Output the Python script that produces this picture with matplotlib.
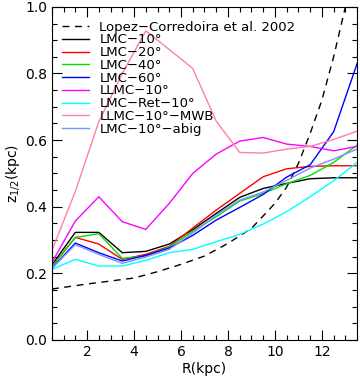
import matplotlib
matplotlib.use('Agg')
import matplotlib.pyplot as plt
from matplotlib.ticker import MultipleLocator

# radial bins (kpc)
r = [0.5, 1.5, 2.5, 3.5, 4.5, 5.5, 6.5, 7.5, 8.5, 9.5, 10.5, 11.5, 12.5, 13.5]

lmc10 = [0.225, 0.323, 0.323, 0.262, 0.266, 0.288, 0.331, 0.38, 0.428, 0.455, 0.47, 0.484, 0.487, 0.487]
lmc20 = [0.22, 0.308, 0.288, 0.242, 0.257, 0.281, 0.336, 0.39, 0.44, 0.49, 0.514, 0.521, 0.523, 0.523]
lmc40 = [0.22, 0.308, 0.319, 0.245, 0.252, 0.279, 0.326, 0.37, 0.417, 0.44, 0.469, 0.494, 0.533, 0.585]
lmc60 = [0.215, 0.291, 0.262, 0.237, 0.254, 0.276, 0.314, 0.36, 0.398, 0.437, 0.489, 0.526, 0.625, 0.83]
llmc10 = [0.232, 0.357, 0.43, 0.355, 0.332, 0.41, 0.5, 0.558, 0.597, 0.608, 0.588, 0.581, 0.568, 0.581]
lmc_ret = [0.212, 0.242, 0.222, 0.222, 0.239, 0.262, 0.272, 0.295, 0.317, 0.348, 0.385, 0.43, 0.478, 0.533]
llmc_mwb = [0.268, 0.446, 0.655, 0.80, 0.928, 0.872, 0.815, 0.657, 0.563, 0.561, 0.573, 0.581, 0.602, 0.627]
lmc_abig = [0.215, 0.286, 0.257, 0.23, 0.249, 0.272, 0.321, 0.375, 0.42, 0.444, 0.479, 0.516, 0.543, 0.573]

# Lopez-Corredoira et al. 2002 curve
r_lc = [0.5, 1, 2, 3, 4, 5, 6, 7, 8, 9, 10, 10.5, 11, 11.5, 12, 12.5, 13, 13.2]
z_lc = [0.153, 0.158, 0.168, 0.177, 0.186, 0.205, 0.227, 0.252, 0.29, 0.335, 0.41, 0.459, 0.53, 0.62, 0.72, 0.85, 1.0, 1.07]

fig = plt.figure(figsize=(3.6, 3.82), dpi=100)
ax = fig.add_axes([0.144, 0.11, 0.848, 0.872])

ax.plot(r_lc, z_lc, color='black', ls=(0, (5, 4)), lw=1.0, label='Lopez\u2212Corredoira et al. 2002')
ax.plot(r, lmc10, color='black', lw=1.0, label='LMC\u221210\u00b0')
ax.plot(r, lmc20, color='#ff0000', lw=1.0, label='LMC\u221220\u00b0')
ax.plot(r, lmc40, color='#00e000', lw=1.0, label='LMC\u221240\u00b0')
ax.plot(r, lmc60, color='#0000ff', lw=1.0, label='LMC\u221260\u00b0')
ax.plot(r, llmc10, color='#ff00ff', lw=1.0, label='LLMC\u221210\u00b0')
ax.plot(r, lmc_ret, color='#00ffff', lw=1.0, label='LMC\u2212Ret\u221210\u00b0')
ax.plot(r, llmc_mwb, color='#ff7fa8', lw=1.0, label='LLMC\u221210\u00b0\u2212MWB')
ax.plot(r, lmc_abig, color='#7f8fff', lw=1.0, label='LMC\u221210\u00b0\u2212abig')

ax.set_xlim(0.5, 13.5)
ax.set_ylim(0.0, 1.0)
ax.xaxis.set_major_locator(MultipleLocator(2))
ax.xaxis.set_minor_locator(MultipleLocator(0.5))
ax.yaxis.set_major_locator(MultipleLocator(0.2))
ax.yaxis.set_minor_locator(MultipleLocator(0.05))
ax.yaxis.set_major_formatter(matplotlib.ticker.FormatStrFormatter('%.1f'))
ax.tick_params(which='both', direction='in', top=True, right=True, labelsize=10)
ax.tick_params(which='major', length=7, width=0.8)
ax.tick_params(which='minor', length=3.5, width=0.8)
for s in ax.spines.values():
    s.set_linewidth(0.8)

ax.set_xlabel('R(kpc)', fontsize=10, labelpad=2)
ax.set_ylabel('z$_{1/2}$(kpc)', fontsize=10, labelpad=2)

ax.legend(loc='upper left', bbox_to_anchor=(0.0, 0.99), frameon=False, fontsize=9.5,
          handlelength=2.0, handletextpad=0.8, labelspacing=-0.02, borderaxespad=0.4)

fig.savefig('out.png', dpi=100)
